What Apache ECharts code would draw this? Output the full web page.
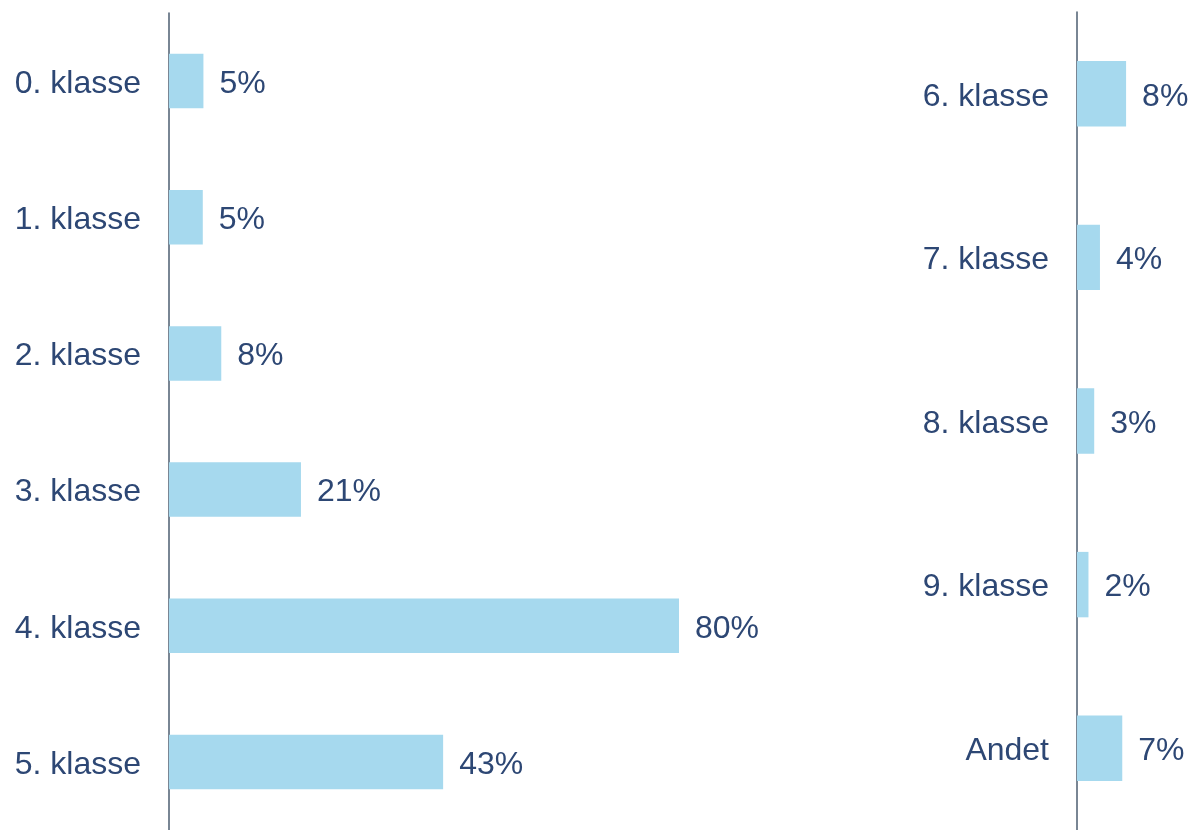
<!DOCTYPE html>
<html>
<head>
<meta charset="utf-8">
<script src="https://cdn.jsdelivr.net/npm/echarts@6/dist/echarts.min.js"></script>
<style>
  html, body { margin: 0; padding: 0; background: #ffffff; }
  #chart { width: 1191px; height: 830px; }
</style>
</head>
<body>
<div id="chart"></div>
<script>
// Left panel
const leftCategories = ['0. klasse', '1. klasse', '2. klasse', '3. klasse', '4. klasse', '5. klasse'];
const leftValues = [5.4, 5.3, 8.2, 20.7, 80, 43.0];
// Right panel
const rightCategories = ['6. klasse', '7. klasse', '8. klasse', '9. klasse', 'Andet'];
const rightValues = [7.7, 3.6, 2.7, 1.8, 7.1];

const barColor = '#a6d9ee';
const textColor = '#2d4774';
const axisColor = '#4d5e70';
const fontFamily = '"Liberation Sans", Arial, sans-serif';

const chart = echarts.init(document.getElementById('chart'), null, { renderer: 'canvas' });

function yAxis(idx, cats) {
  return {
    type: 'category',
    gridIndex: idx,
    data: cats,
    inverse: true,
    axisLine: { show: true, lineStyle: { color: axisColor, width: 1.5 } },
    axisTick: { show: false },
    splitLine: { show: false },
    axisLabel: {
      color: textColor, fontSize: 32, fontFamily: fontFamily, margin: 28,
      formatter: v => '{a|' + v + '}',
      rich: { a: { color: textColor, fontSize: 32, fontFamily: fontFamily, padding: [6, 0, 0, 0] } }
    }
  };
}
function xAxis(idx, max) {
  return {
    type: 'value',
    gridIndex: idx,
    min: 0,
    max: max,
    show: false,
    splitLine: { show: false }
  };
}
function series(idx, vals) {
  return {
    type: 'bar',
    xAxisIndex: idx,
    yAxisIndex: idx,
    data: vals,
    barWidth: '40%',
    itemStyle: { color: barColor },
    label: {
      show: true,
      position: 'right',
      distance: 16,
      offset: [0, 3],
      color: textColor,
      fontSize: 32,
      fontFamily: fontFamily,
      formatter: p => Math.round(p.value) + '%'
    },
    silent: true,
    animation: false
  };
}

chart.setOption({
  animation: false,
  backgroundColor: '#ffffff',
  grid: [
    { left: 169, top: 13, width: 637.5, height: 822 },
    { left: 1077, top: 12, width: 102, height: 820 }
  ],
  xAxis: [xAxis(0, 100), xAxis(1, 16)],
  yAxis: [yAxis(0, leftCategories), yAxis(1, rightCategories)],
  series: [series(0, leftValues), series(1, rightValues)]
});
</script>
</body>
</html>
